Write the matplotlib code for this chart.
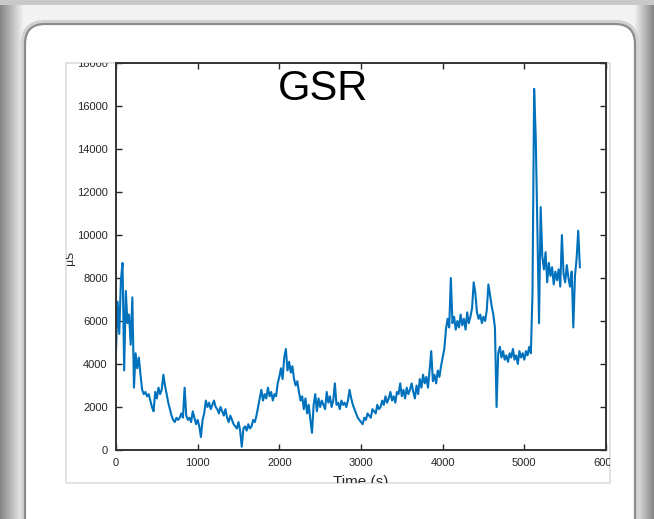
import numpy as np
import matplotlib
matplotlib.use("Agg")
import matplotlib.pyplot as plt
from matplotlib.patches import Rectangle, FancyBboxPatch
from matplotlib.transforms import Bbox

# GSR samples, one every 20 s
step = 20
gsr = [
    4600, 6900, 5400, 7900, 8700, 3700, 7400, 5900, 6300, 4900,
    7100, 2900, 4500, 3800, 4300, 3500, 2800, 2600, 2700, 2500,
    2600, 2300, 2000, 1800, 2700, 2400, 2900, 2600, 2800, 3500,
    3000, 2600, 2200, 1900, 1600, 1400, 1300, 1500, 1400, 1500,
    1700, 1500, 2900, 1600, 1400, 1500, 1300, 1800, 1500, 1200,
    1400, 1100, 600, 1400, 1700, 2300, 2000, 2200, 1900, 2100,
    2300, 2000, 1900, 1700, 2000, 1800, 1600, 1900, 1500, 1300,
    1600, 1400, 1200, 1100, 1000, 1300, 900, 150, 1000, 1100,
    900, 1200, 1000, 1100, 1400, 1300, 1600, 2000, 2400, 2800,
    2300, 2600, 2400, 2900, 2500, 2700, 2300, 2600, 2500, 3100,
    3400, 3800, 3300, 4300, 4700, 3700, 4100, 3600, 3900, 3300,
    3000, 3200, 2700, 2300, 2500, 1900, 2400, 1700, 2100, 1400,
    800, 2100, 2600, 1800, 2400, 2000, 2300, 2100, 1900, 2700,
    2200, 2500, 2000, 2300, 3100, 2100, 2200, 1900, 2300, 2100,
    2200, 2000, 2300, 2800, 2400, 2100, 1900, 1700, 1500, 1400,
    1300, 1200, 1500, 1400, 1700, 1600, 1500, 1900, 1800, 1700,
    2100, 1900, 2000, 2300, 2100, 2500, 2200, 2400, 2700, 2300,
    2500, 2200, 2700, 2600, 3100, 2500, 2800, 2400, 2900, 2600,
    2800, 3100, 2700, 2400, 3000, 2600, 3300, 2900, 3500, 3100,
    3400, 2900, 3700, 4600, 3200, 3500, 3100, 3700, 3400, 3900,
    4300, 4700, 5600, 6100, 5700, 8000, 5900, 6200, 5600, 6000,
    5700, 6300, 5800, 6100, 5600, 6400, 5900, 6200, 6600, 7800,
    7300, 6400, 6100, 6300, 5900, 6200, 6000, 6500, 7700, 7200,
    6700, 6300, 5700, 2000, 4500, 4800, 4300, 4600, 4200, 4400,
    4100, 4500, 4300, 4700, 4200, 4400, 4000, 4600, 4300, 4500,
    4200, 4600, 4400, 4800, 4500, 7300, 16800, 14500, 10200, 5900,
    11300, 9000, 8400, 9200, 7800, 8700, 8100, 8500, 7700, 8300,
    7900, 8400, 7600, 10000, 8200, 7800, 8600, 8000, 7600, 8300,
    5700, 8100, 8900, 10200, 8500,
]
time_s = np.arange(len(gsr)) * step

xticks = [0, 1000, 2000, 3000, 4000, 5000, 6000]
yticks = [0, 2000, 4000, 6000, 8000, 10000, 12000, 14000, 16000, 18000]

W, H = 654, 519
fig = plt.figure(figsize=(W / 100, H / 100), dpi=100)

# frame around the screenshot
bg = fig.add_axes([0, 0, 1, 1])
bg.set_xlim(0, W)
bg.set_ylim(H, 0)
bg.axis("off")
bg.add_patch(Rectangle((0, 0), W, H, facecolor="#f3f3f3", edgecolor="none"))
bg.add_patch(Rectangle((0, 0), W, 5, facecolor="#c9c9c9", edgecolor="none"))
ramp = np.linspace(0, 1, 64)[None, :]
bg.imshow(ramp, cmap="gray", vmin=-1.2, vmax=1.1, extent=(0, 24, H, 5),
          aspect="auto", zorder=1)
bg.imshow(ramp[:, ::-1], cmap="gray", vmin=-1.2, vmax=1.1, extent=(634, W, H, 5),
          aspect="auto", zorder=1)
bg.add_patch(FancyBboxPatch((25, 24), 610, 520, boxstyle="round,pad=0,rounding_size=20",
                            facecolor="none", edgecolor="#d2d2d2", lw=6, zorder=2))
bg.add_patch(FancyBboxPatch((25, 24), 610, 520, boxstyle="round,pad=0,rounding_size=20",
                            facecolor="white", edgecolor="#8c8c8c", lw=1.6, zorder=3))
bg.add_patch(Rectangle((66, 63), 544, 420, facecolor="white", edgecolor="#dedede",
                       lw=1.2, zorder=4))

ax = fig.add_axes([116 / W, (H - 450) / H, 490 / W, 387 / H])
ax.plot(time_s, gsr, color="#0072BD", lw=1.5)
ax.set_xlim(0, 6000)
ax.set_ylim(0, 18000)
ax.set_xticks(xticks)
ax.set_yticks(yticks)
ax.set_xticklabels([str(v) for v in xticks])
ax.set_yticklabels([str(v) for v in yticks])
ax.tick_params(direction="in", length=4, width=1, top=True, right=True,
               labelsize=8, colors="#262626")
ax.tick_params(axis="x", pad=6)
ax.tick_params(axis="y", pad=6)
for sp in ax.spines.values():
    sp.set_linewidth(1.4)
    sp.set_color("#333333")

# texts are cut by the edges of the figure area
clip = Bbox([[66, H - 483], [610, H - 63]])
for lab in ax.get_xticklabels() + ax.get_yticklabels():
    lab.set_fontfamily("Liberation Sans")
    lab.set_clip_on(True)
    lab.set_clip_box(clip)

xl = fig.text(361 / W, 1 - 486 / H, "Time (s)", ha="center", va="baseline",
              fontsize=11, family="Liberation Sans", color="#262626")
xl.set_clip_on(True)
xl.set_clip_box(clip)
yl = fig.text(70 / W, 1 - 258 / H, "μS", ha="center", va="center", rotation=90,
              fontsize=8, family="DejaVu Sans", color="#262626")
yl.set_clip_on(True)
yl.set_clip_box(clip)

fig.text(323 / W, 1 - 89 / H, "GSR", ha="center", va="center", fontsize=30,
         family="Liberation Sans", color="black")

fig.savefig("out.png", dpi=100)
